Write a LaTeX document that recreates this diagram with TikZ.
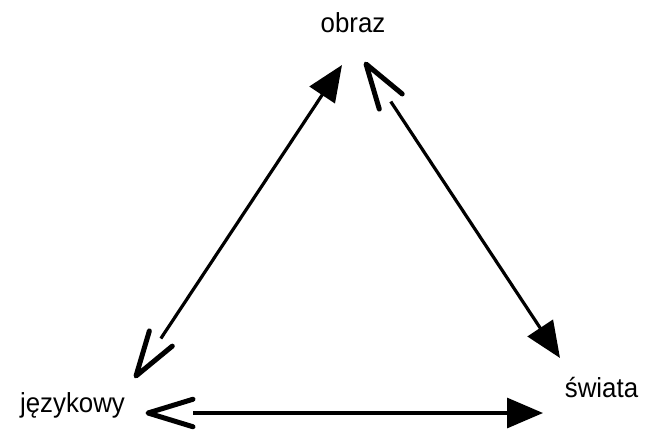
\documentclass[tikz,border=0pt]{standalone}
\usepackage{fontspec}
\setmainfont{Liberation Sans}[FakeStretch=0.94]
\usetikzlibrary{arrows.meta,calc}
\tikzset{
  label/.style={anchor=base, inner sep=0pt, font=\fontsize{27.5}{33}\selectfont},
  link/.style={line width=3.2pt, -{Triangle[length=36pt,width=30pt]}, shorten <=45pt},
  barb/.style={line width=5pt, line cap=round, line join=round},
}
% open barb at #1 pointing away from #2
\newcommand{\openbarb}[2]{%
  \draw[barb] ($(#1)!47pt!17:(#2)$) -- (#1) -- ($(#1)!47pt!-17:(#2)$);}
\begin{document}
\begin{tikzpicture}[x=1pt,y=-1pt]
  \useasboundingbox (0,0) rectangle (650,431);
  \node[label] (obraz) at (353,32) {obraz};
  \node[label] (jez) at (72.5,412) {językowy};
  \node[label] (swiata) at (601.5,397) {świata};

  \coordinate (jezTop) at (136,376);
  \coordinate (obrLeft) at (342,65);
  \coordinate (obrRight) at (366,64);
  \coordinate (swTop) at (560,358);
  \coordinate (jezRight) at (148,413);
  \coordinate (swLeft) at (543,413);

  \draw[link] (jezTop) -- (obrLeft);
  \openbarb{jezTop}{obrLeft}
  \draw[link] (obrRight) -- (swTop);
  \openbarb{obrRight}{swTop}
  \draw[link] (jezRight) -- (swLeft);
  \openbarb{jezRight}{swLeft}
\end{tikzpicture}
\end{document}
